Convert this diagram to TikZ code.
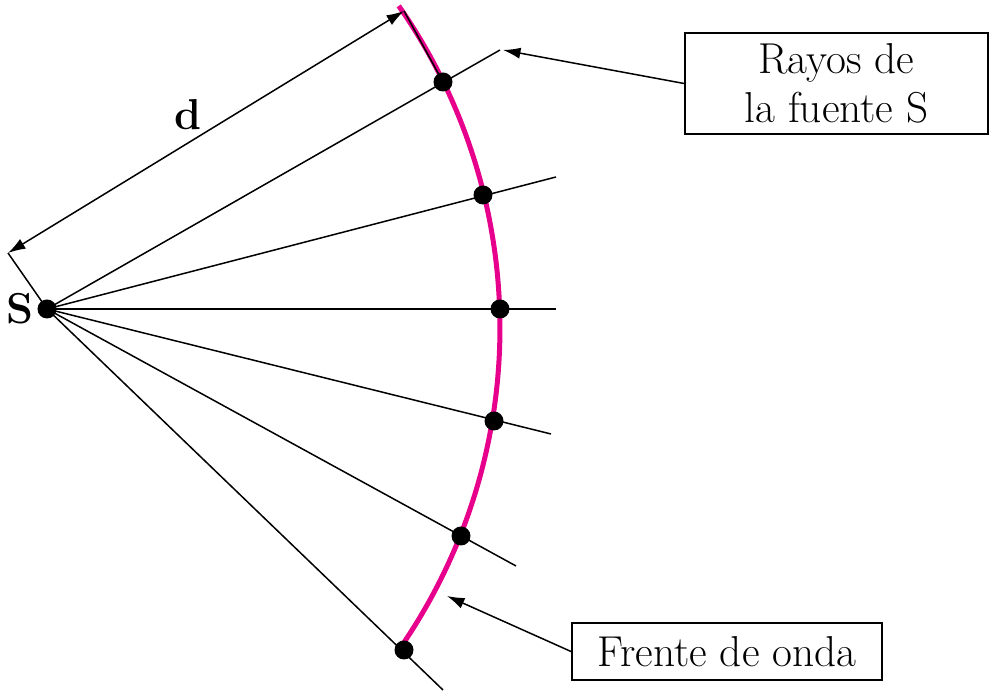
\documentclass[tikz,border=0pt]{standalone}
\usepackage{tikz}
\usetikzlibrary{calc,arrows.meta}
\definecolor{frente}{RGB}{230,0,140}

\begin{document}
\begin{tikzpicture}[x=0.4pt,y=0.4pt,font=\fontsize{17.3}{19.5}\selectfont,
    rayo/.style={line width=0.6pt},
    caja/.style={draw,line width=0.8pt,align=center,inner sep=0pt},
    flecha/.style={line width=0.6pt,-{Latex[length=7pt,width=4.5pt]}}]

        \useasboundingbox (0,0) rectangle (989,691);

        % S - fuente, C - centro del arco del frente
        \coordinate (S) at (47,382);
        \coordinate (C) at (-63,363);

        % extremos de los rayos
        \coordinate (R1) at (500,641);
        \coordinate (R2) at (556,514);
        \coordinate (R3) at (556,382);
        \coordinate (R4) at (551,257);
        \coordinate (R5) at (516,125);
        \coordinate (R6) at (443,1);

        % puntos del frente de onda
        \coordinate (P1) at (443,609);
        \coordinate (P2) at (483,496);
        \coordinate (P3) at (500,382);
        \coordinate (P4) at (494,270);
        \coordinate (P5) at (461,155);
        \coordinate (P6) at (404,41);

        % cota d
        \coordinate (D1) at (8,438);
        \coordinate (D2) at (404,680);

        % Frente de onda
        \draw[frente,line width=2pt] ($(C)+(34.9:563)$) arc[start angle=34.9,end angle=-34.4,radius=563];

        % Rayos
        \foreach \i in {1,...,6}
            \draw[rayo] (S) -- (R\i);

        % Cota
        \draw[rayo] (S) -- (D1);
        \draw[rayo] (P1) -- (D2);
        \draw[rayo,{Latex[length=7pt,width=4.5pt]}-{Latex[length=7pt,width=4.5pt]}] (D1) -- (D2);
        \node at (188,576) {\textbf{d}};

        \fill (S) circle (3.8pt);
        \foreach \i in {1,...,6}
            \fill (P\i) circle (3.8pt);
        \node at (20,382) {\textbf{S}};

        % Etiquetas
        \node[caja,minimum width=121.2pt,minimum height=40.4pt] (rayos) at (836.5,607.5) {Rayos de\\la fuente S};
        \node[caja,minimum width=124pt,minimum height=22.8pt] (frenteonda) at (727,39.5) {Frente de onda};

        \coordinate (A1) at (503,641);
        \coordinate (A2) at (447,95);
        \draw[flecha] (rayos.west) -- (A1);
        \draw[flecha] (frenteonda.west) -- (A2);
    \end{tikzpicture}
\end{document}
